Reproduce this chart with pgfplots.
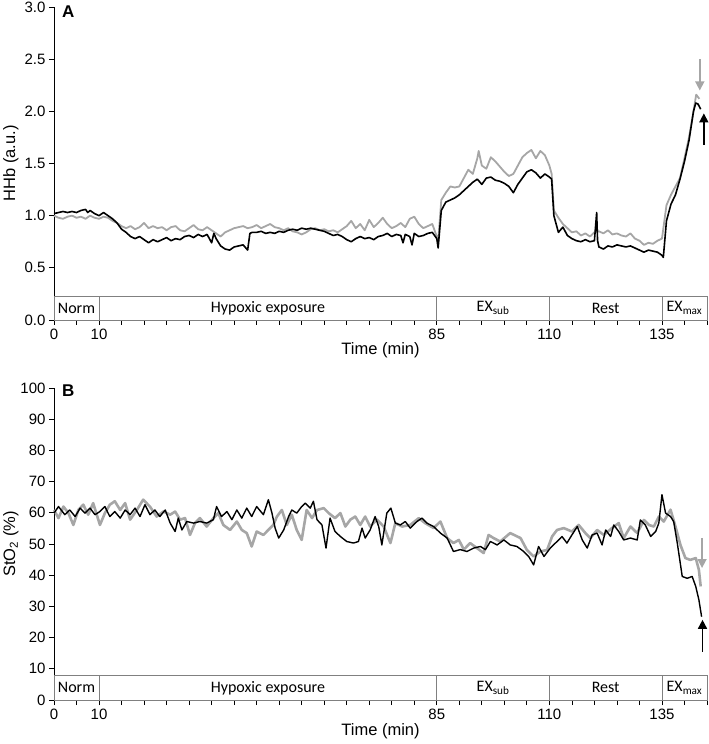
\documentclass[border=0pt]{standalone}
\usepackage{pgfplots}
\usepackage{pgfplotstable}
\pgfplotsset{compat=1.18}
\usetikzlibrary{arrows.meta}
\usepackage{fontspec}
\setmainfont{Liberation Sans}
\newfontfamily\carl{Carlito}
\definecolor{lgray}{RGB}{166,166,166}
\definecolor{bandgray}{RGB}{128,128,128}

% HHb, black trace
\pgfplotstableread{
t v
0 1.02
1 1.03
2 1.04
3 1.03
4 1.04
5 1.03
6 1.05
7 1.06
7.5 1.03
8 1.05
9 1.02
10 1.00
11 1.03
12 1.00
13 0.97
14 0.93
15 0.87
16 0.84
17 0.80
18 0.78
19 0.80
20 0.77
21 0.74
22 0.77
23 0.75
24 0.77
25 0.79
26 0.76
27 0.78
28 0.77
29 0.80
30 0.81
31 0.79
32 0.82
33 0.80
34 0.82
35 0.74
35.5 0.83
36 0.78
37 0.71
38 0.68
39 0.67
40 0.70
41 0.71
42 0.72
43 0.67
43.5 0.83
44 0.84
45 0.84
46 0.85
47 0.83
48 0.84
49 0.83
50 0.85
51 0.84
52 0.86
53 0.87
54 0.86
55 0.88
56 0.87
57 0.88
58 0.87
59 0.86
60 0.85
61 0.83
62 0.81
63 0.82
64 0.80
65 0.77
66 0.75
67 0.78
68 0.80
69 0.78
70 0.79
71 0.77
72 0.80
73 0.81
74 0.83
75 0.80
76 0.82
77 0.81
77.5 0.74
78 0.82
79 0.80
79.5 0.72
80 0.83
81 0.80
82 0.81
83 0.83
84 0.84
85 0.78
85.3 0.69
86 1.05
87 1.13
88 1.15
89 1.17
90 1.20
91 1.24
92 1.28
93 1.32
94 1.35
95 1.30
96 1.36
97 1.37
98 1.34
99 1.33
100 1.31
101 1.28
102 1.22
103 1.30
104 1.36
105 1.42
106 1.44
107 1.41
108 1.36
109 1.40
110 1.37
110.5 1.35
111 1.00
112 0.84
113 0.89
114 0.81
115 0.78
116 0.76
117 0.75
118 0.77
119 0.75
120 0.76
120.5 1.03
120.7 0.76
121 0.70
122 0.68
123 0.71
124 0.70
125 0.72
126 0.71
127 0.70
128 0.71
129 0.69
130 0.67
131 0.65
132 0.67
133 0.66
134 0.65
135 0.62
135.3 0.60
136 0.95
137 1.11
138 1.20
139 1.35
140 1.52
141 1.72
142 2.00
142.5 2.08
143 2.07
143.6 2.02
}\hhbblack

% HHb, grey trace
\pgfplotstableread{
t v
0 1.00
1 0.98
2 0.97
3 0.99
4 1.00
5 0.98
6 0.99
7 0.97
8 1.00
9 0.98
10 0.97
11 0.99
12 0.98
13 0.95
14 0.93
15 0.90
16 0.88
17 0.90
18 0.87
19 0.89
20 0.93
21 0.88
22 0.90
23 0.88
24 0.89
25 0.86
26 0.89
27 0.90
28 0.86
29 0.85
30 0.88
31 0.91
32 0.87
33 0.86
34 0.89
35 0.86
36 0.83
37 0.80
38 0.84
39 0.86
40 0.88
41 0.89
42 0.90
43 0.88
44 0.89
45 0.91
46 0.88
47 0.90
48 0.92
49 0.89
50 0.88
51 0.86
52 0.88
53 0.85
54 0.84
55 0.82
56 0.84
57 0.87
58 0.88
59 0.86
60 0.87
61 0.85
62 0.86
63 0.84
64 0.87
65 0.90
66 0.95
67 0.88
68 0.92
69 0.86
70 0.96
71 0.89
72 0.93
73 0.98
74 0.92
75 0.88
76 0.90
77 0.93
78 0.89
79 0.97
80 0.99
81 0.92
82 0.88
83 0.90
84 0.92
85 0.80
85.3 0.75
86 1.15
87 1.22
88 1.28
89 1.27
90 1.28
91 1.36
92 1.44
93 1.40
94 1.55
94.3 1.62
95 1.48
96 1.45
97 1.56
98 1.52
99 1.47
100 1.42
101 1.38
102 1.40
103 1.48
104 1.56
105 1.60
106 1.63
107 1.55
108 1.62
109 1.58
110 1.48
110.5 1.40
111 1.05
112 0.98
113 0.92
114 0.88
115 0.84
116 0.85
117 0.81
118 0.83
119 0.80
120 0.84
121 0.85
122 0.83
123 0.86
124 0.82
125 0.83
126 0.81
127 0.80
128 0.83
129 0.78
130 0.76
131 0.72
132 0.74
133 0.73
134 0.76
135 0.78
136 1.10
137 1.20
138 1.28
139 1.36
140 1.55
141 1.75
142 2.00
142.6 2.16
143.3 2.12
}\hhbgray

% StO2, black trace
\pgfplotstableread{
t v
0 59.9
1.0 62.0
2.4 59.4
3.5 60.9
4.7 58.8
5.8 61.5
6.9 59.9
8.0 61.5
9.1 59.4
10.2 60.4
11.3 62.0
12.4 58.8
13.5 60.4
14.7 58.3
15.8 60.9
16.9 59.4
18.0 61.5
19.1 58.8
20.2 62.6
21.3 59.4
22.4 60.9
23.5 58.8
24.7 60.9
25.8 56.7
26.9 54.0
27.6 58.3
28.4 54.5
29.5 57.2
31.0 56.7
32.4 57.2
33.9 56.7
35.4 57.8
36.1 62.0
37.2 58.8
38.4 60.4
39.5 57.8
40.6 60.9
41.7 58.3
42.8 61.5
43.9 58.8
45.0 62.0
46.5 59.4
47.6 64.2
48.4 59.9
49.1 55.1
49.9 51.9
51.0 54.5
52.1 58.8
52.8 60.9
53.9 59.9
55.0 62.0
55.8 63.1
56.9 61.5
57.6 63.7
58.4 57.8
59.5 56.1
60.4 48.7
61.3 58.3
62.4 54.0
63.6 52.4
65.0 50.8
66.5 50.3
67.6 50.8
68.4 55.1
69.1 51.9
70.2 54.5
71.3 58.8
72.1 55.6
72.8 49.7
73.9 59.9
74.8 61.5
75.8 56.7
76.9 56.1
78.0 57.2
79.1 55.1
80.6 57.2
81.7 58.3
82.8 56.7
84.3 55.6
85.8 53.5
87.3 51.9
88.7 47.6
90.2 48.2
91.7 47.6
93.2 48.7
94.7 49.2
95.8 48.2
96.9 50.8
98.4 49.7
99.9 51.3
101.3 49.7
102.8 49.2
104.3 47.6
105.4 46.0
106.5 43.3
107.6 49.2
108.8 46.0
110.2 48.7
111.7 50.8
112.8 52.4
113.9 50.3
115.0 52.9
116.2 55.6
117.3 51.3
118.4 48.7
119.5 52.9
120.6 53.5
121.7 49.7
122.5 54.5
123.6 52.4
124.3 56.1
125.4 54.0
126.5 51.3
128.0 51.9
129.5 51.3
130.2 57.7
131.3 56.1
132.5 52.4
133.6 54.0
134.3 56.7
135.0 65.8
135.8 59.9
136.9 58.8
137.6 57.2
138.4 50.3
139.5 39.6
140.6 39.0
141.7 39.6
142.5 36.4
143.2 32.1
143.8 26.7
}\stoblack

% StO2, grey trace
\pgfplotstableread{
t v
0 60.9
1.0 58.3
2.1 62.0
3.2 59.9
4.3 56.1
5.4 60.9
6.5 62.6
7.6 59.4
8.7 63.1
10.2 56.1
11.3 59.9
12.4 62.6
13.5 63.7
14.7 60.9
15.8 63.1
16.9 57.8
18.4 60.9
19.8 64.2
21.3 62.0
22.8 58.8
24.3 60.4
25.8 59.4
26.9 60.4
28.0 57.8
29.1 58.3
30.2 52.9
31.3 56.7
32.4 58.3
33.9 55.6
35.4 58.3
36.5 59.9
37.6 56.1
39.1 54.5
40.6 57.2
41.7 54.5
42.8 53.5
43.9 49.2
45.0 54.0
46.5 52.9
47.6 54.5
48.7 56.1
49.5 58.8
50.6 60.9
51.7 56.1
52.8 59.4
53.9 54.5
55.0 51.3
56.1 60.9
57.3 58.3
58.4 60.9
59.9 61.5
61.0 59.9
62.4 58.3
63.6 59.9
64.7 55.6
65.8 57.8
66.9 58.8
68.0 56.1
69.1 58.8
70.2 55.6
71.7 57.8
73.2 55.6
74.7 50.3
75.8 56.7
77.3 55.6
79.1 56.1
81.0 58.3
82.4 56.7
84.3 55.1
85.8 57.2
87.3 51.9
88.7 50.3
89.9 51.3
91.0 48.2
92.4 50.3
93.9 48.7
95.4 47.1
96.5 52.9
97.6 51.9
99.1 50.8
101.3 53.5
103.6 51.9
105.0 48.1
106.5 46.0
108.0 47.6
109.5 48.1
110.6 52.4
111.7 54.5
113.2 55.1
115.0 54.0
116.5 56.1
118.0 53.5
119.1 51.9
120.6 54.5
122.1 52.9
123.9 55.1
125.4 56.7
126.5 51.9
128.0 55.6
129.5 53.5
131.0 57.7
132.1 56.1
133.2 55.6
134.3 58.8
135.4 57.2
136.9 61.0
138.0 55.6
139.1 49.7
140.2 45.5
141.3 44.9
142.5 45.5
143.2 41.7
143.6 36.4
}\stogray

\pgfplotsset{
  panel/.style={
    scale only axis, width=653pt, xmin=0, xmax=145,
    axis x line*=bottom, axis y line*=left,
    axis line style={black, line width=0.8pt},
    tick style={black, line width=0.8pt},
    tick align=outside,
    major tick length=5pt, minor tick length=5pt,
    xtick={0,10,85,110,135},
    minor xtick={0,5,...,145},
    clip=false,
    /pgf/number format/assume math mode=true,
    tick label style={font=\fontsize{15}{17}\selectfont},
    label style={font=\fontsize{16.5}{19}\selectfont},
    xlabel={Time (min)},
  },
}

\begin{document}
\begin{tikzpicture}
% panel A
\begin{axis}[panel, at={(54pt,424pt)}, anchor=south west,
    height=313pt, ymin=0, ymax=3, ytick={0,0.5,...,3},
    yticklabel style={/pgf/number format/fixed, /pgf/number format/fixed zerofill, /pgf/number format/precision=1},
    ylabel={HHb (a.u.)},
    ylabel style={at={(axis description cs:-0.066,0.5)}, anchor=center},
    xlabel style={at={(axis description cs:0.5,-0.096)}, anchor=center}]
  \addplot[lgray, line width=1.8pt, line join=round] table[x=t, y=v] {\hhbgray};
  \addplot[black, line width=1.6pt, line join=round] table[x=t, y=v] {\hhbblack};
  \draw[bandgray, line width=0.7pt] (axis cs:0,0) rectangle (axis cs:145,0.23);
  \draw[bandgray, line width=0.7pt] (axis cs:10,0) -- (axis cs:10,0.23);
  \draw[bandgray, line width=0.7pt] (axis cs:85,0) -- (axis cs:85,0.23);
  \draw[bandgray, line width=0.7pt] (axis cs:110,0) -- (axis cs:110,0.23);
  \draw[bandgray, line width=0.7pt] (axis cs:135,0) -- (axis cs:135,0.23);
  \begin{scope}[font=\carl\fontsize{16}{18}\selectfont]
    \node at (axis cs:5,0.115) {Norm};
    \node at (axis cs:47.5,0.115) {Hypoxic exposure};
    \node at (axis cs:97.5,0.115) {EX\textsubscript{sub}};
    \node at (axis cs:122.5,0.115) {Rest};
    \node at (axis cs:140,0.115) {EX\textsubscript{max}};
  \end{scope}
  \draw[lgray, line width=1.6pt, -{Triangle[width=9pt,length=9pt]}] (axis cs:143.4,2.50) -- (axis cs:143.4,2.20);
  \draw[black, line width=1.6pt, -{Triangle[width=9pt,length=9pt]}] (axis cs:144.3,1.68) -- (axis cs:144.3,1.98);
  \node[font=\bfseries\fontsize{17}{19}\selectfont] at (axis description cs:0.022,0.985) {A};
\end{axis}
% panel B
\begin{axis}[panel, at={(54pt,44pt)}, anchor=south west,
    height=312pt, ymin=0, ymax=100, ytick={0,10,...,100},
    ylabel={StO\textsubscript{2} (\%)},
    ylabel style={at={(axis description cs:-0.066,0.5)}, anchor=center},
    xlabel style={at={(axis description cs:0.5,-0.099)}, anchor=center}]
  \addplot[lgray, line width=2.6pt, line join=round] table[x=t, y=v] {\stogray};
  \addplot[black, line width=1.4pt, line join=round] table[x=t, y=v] {\stoblack};
  \draw[bandgray, line width=0.7pt] (axis cs:0,0) rectangle (axis cs:145,7.8);
  \draw[bandgray, line width=0.7pt] (axis cs:10,0) -- (axis cs:10,7.8);
  \draw[bandgray, line width=0.7pt] (axis cs:85,0) -- (axis cs:85,7.8);
  \draw[bandgray, line width=0.7pt] (axis cs:110,0) -- (axis cs:110,7.8);
  \draw[bandgray, line width=0.7pt] (axis cs:135,0) -- (axis cs:135,7.8);
  \begin{scope}[font=\carl\fontsize{16}{18}\selectfont]
    \node at (axis cs:5,3.9) {Norm};
    \node at (axis cs:47.5,3.9) {Hypoxic exposure};
    \node at (axis cs:97.5,3.9) {EX\textsubscript{sub}};
    \node at (axis cs:122.5,3.9) {Rest};
    \node at (axis cs:140,3.9) {EX\textsubscript{max}};
  \end{scope}
  \draw[lgray, line width=1.6pt, -{Triangle[width=9pt,length=9pt]}] (axis cs:143.9,52) -- (axis cs:143.9,42.3);
  \draw[black, line width=1.6pt, -{Triangle[width=9pt,length=9pt]}] (axis cs:144.0,15.5) -- (axis cs:144.0,25.7);
  \node[font=\bfseries\fontsize{17}{19}\selectfont] at (axis description cs:0.022,0.99) {B};
\end{axis}
\pgfresetboundingbox
\path (0,0) rectangle (709pt,744pt);
\end{tikzpicture}
\end{document}
